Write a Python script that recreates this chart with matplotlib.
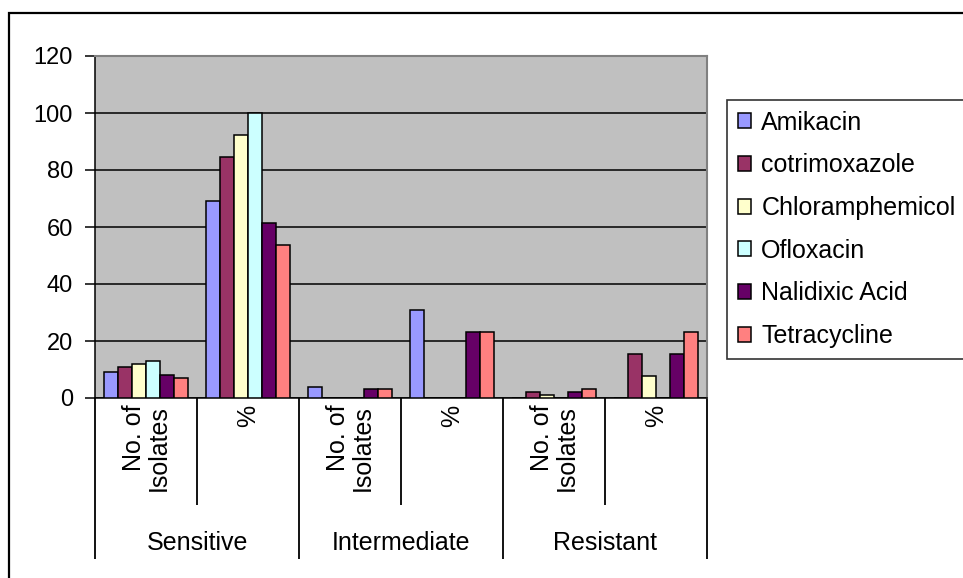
import matplotlib
matplotlib.use("Agg")
import matplotlib.pyplot as plt
from matplotlib.patches import Patch, Rectangle

plt.rcParams['font.family'] = ['Liberation Sans', 'DejaVu Sans']

groups = ['Sensitive', 'Intermediate', 'Resistant']
sub_labels = ['No. of\nIsolates', '%']
drugs = ['Amikacin', 'cotrimoxazole', 'Chloramphemicol', 'Ofloxacin',
         'Nalidixic Acid', 'Tetracycline']
colors = ['#9999FF', '#993366', '#FFFFCC', '#CCFFFF', '#660066', '#FF8080']

# values per drug, order: Sens No, Sens %, Int No, Int %, Res No, Res %
amikacin = [9, 69.2, 4, 30.8, 0, 0]
cotrimoxazole = [11, 84.6, 0, 0, 2, 15.4]
chloramphenicol = [12, 92.3, 0, 0, 1, 7.7]
ofloxacin = [13, 100, 0, 0, 0, 0]
nalidixic = [8, 61.5, 3, 23.1, 2, 15.4]
tetracycline = [7, 53.8, 3, 23.1, 3, 23.1]
series = [amikacin, cotrimoxazole, chloramphenicol, ofloxacin, nalidixic, tetracycline]

W, H = 963, 578
fig = plt.figure(figsize=(W / 100, H / 100), dpi=100)
fig.patch.set_facecolor('white')

# outer chart frame (cut at right and bottom)
fig.add_artist(Rectangle((9 / W, -0.1), 1.2, 1 - 13 / H + 0.1, transform=fig.transFigure,
                         fill=False, edgecolor='black', linewidth=1.6))

ax = fig.add_axes([95 / W, 1 - 398 / H, 612 / W, 342 / H])
ax.set_facecolor('#C0C0C0')

n_cat = len(groups) * len(sub_labels)
bw = 0.137
for i, (vals, c) in enumerate(zip(series, colors)):
    xs = [k + (i - 2.5) * bw for k in range(n_cat)]
    ax.bar(xs, vals, width=bw, color=c, edgecolor='black', linewidth=1.1, zorder=3)

ax.set_xlim(-0.5, n_cat - 0.5)
ax.set_ylim(0, 120)
ax.set_yticks(range(0, 121, 20))
ax.yaxis.grid(True, color='black', linewidth=1.1, zorder=1)
ax.set_axisbelow(True)
ax.tick_params(axis='y', labelsize=17, length=7, width=1.1, pad=9)

for s in ['top', 'right']:
    ax.spines[s].set_color('#808080')
    ax.spines[s].set_linewidth(1.5)
for s in ['left', 'bottom']:
    ax.spines[s].set_color('black')
    ax.spines[s].set_linewidth(1.1)

# multi-level category axis
major = [g * 2 - 0.5 for g in range(len(groups) + 1)]
minor = [g * 2 + 0.5 for g in range(len(groups))]
ax.set_xticks(major)
ax.set_xticks(minor, minor=True)
ax.set_xticklabels([])
ax.tick_params(axis='x', which='major', direction='out', length=161 * 0.72, width=1.3)
ax.tick_params(axis='x', which='minor', direction='out', length=107 * 0.72, width=1.3)

tr = ax.get_xaxis_transform()
for g, name in enumerate(groups):
    ax.text(g * 2 + 0.5, -0.425, name, transform=tr, ha='center', va='center', fontsize=18)
    for j, lab in enumerate(sub_labels):
        ax.text(g * 2 + j, -0.02, lab, transform=tr, rotation=90, ha='center', va='top',
                fontsize=18, multialignment='right', linespacing=1.05)

handles = [Patch(facecolor=c, edgecolor='black', linewidth=1.1) for c in colors]
leg = fig.legend(handles, drugs, loc='upper left', bbox_to_anchor=(727 / W, 1 - 100 / H),
                 fontsize=18, frameon=True, fancybox=False, edgecolor='black',
                 handlelength=0.55, handleheight=0.55, handletextpad=0.4,
                 labelspacing=0.75, borderpad=0.42, borderaxespad=0)
leg.get_frame().set_linewidth(1.2)

fig.savefig('out.png', dpi=100)
